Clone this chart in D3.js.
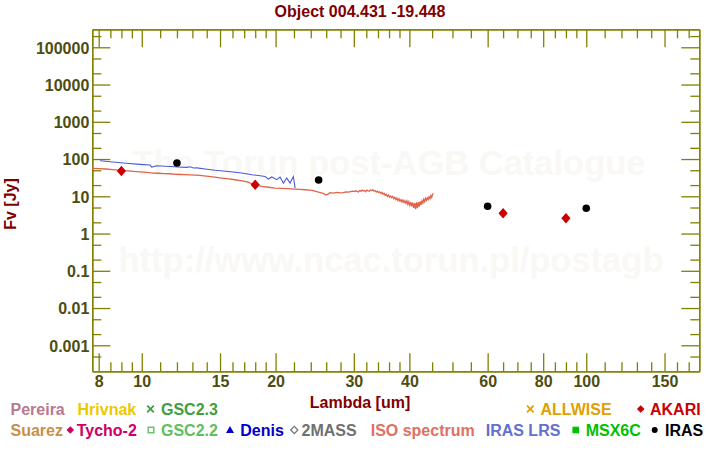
<!DOCTYPE html>
<html>
<head>
<meta charset="utf-8">
<script src="https://cdn.jsdelivr.net/npm/d3@7"></script>
<style>
  html, body { margin: 0; padding: 0; background: #ffffff; }
  svg { display: block; font-family: Arial, "Liberation Sans", sans-serif; }
</style>
</head>
<body>
<svg id="chart" width="720" height="450"></svg>
<script>
// ---------------- DATA ----------------
const chartTitle = "Object 004.431 -19.448";
const xAxisTitle = "Lambda [um]";
const yAxisTitle = "Fv [Jy]";

const xTickValues = [8, 10, 15, 20, 30, 40, 60, 80, 100, 150];
const xMinorTicks = [8.5, 9, 9.5, 11, 12, 13, 14, 16, 17, 18, 19, 22, 24, 26, 28, 32, 34, 36, 38, 45, 50, 55, 65, 70, 75, 85, 90, 95, 110, 120, 130, 140, 160, 170];
const yTickValues = [0.001, 0.01, 0.1, 1, 10, 100, 1000, 10000, 100000];
const yTickLabels = ["0.001", "0.01", "0.1", "1", "10", "100", "1000", "10000", "100000"];
const yMinorTicks = [5e-4, 2e-3, 5e-3, 2e-2, 5e-2, 0.2, 0.5, 2, 5, 20, 50, 200, 500, 2000, 5000, 2e4, 5e4, 2e5];

// ISO spectrum
const isoLambda = [7.73, 8.0, 8.3, 8.6, 9.0, 9.3, 9.6, 9.9, 10.26, 10.6, 10.9, 11.2, 11.58, 11.9, 12.2, 12.5, 12.84, 13.2, 13.5, 14.12, 14.6, 15.13, 15.7, 16.21, 16.7, 17.08, 17.4, 17.68, 18.1, 18.62, 19.3, 19.95, 20.6, 21.37, 22.0,
  22.7, 23.3, 23.9, 24.3, 24.76, 25.2, 25.6, 25.98, 26.3, 26.5, 27.0, 27.5, 28.0, 28.4, 28.8, 29.2, 29.6,
  29.9, 30.1, 30.3, 30.5, 30.7, 30.9, 31.1, 31.3, 31.5, 31.7, 31.9, 32.1, 32.3, 32.5, 32.7, 32.9, 33.1, 33.3, 33.5, 33.7, 33.9,
  34.1, 34.3, 34.5, 34.7, 34.9, 35.1, 35.3, 35.5, 35.7, 35.9, 36.1, 36.3, 36.5, 36.7, 36.9, 37.1, 37.3, 37.5, 37.7, 37.9,
  38.1, 38.3, 38.5, 38.7, 38.9, 39.1, 39.3, 39.5, 39.7, 39.9, 40.1, 40.3, 40.5, 40.7, 40.9, 41.1, 41.3, 41.5, 41.7, 41.9,
  42.1, 42.3, 42.5, 42.7, 42.9, 43.1, 43.3, 43.5, 43.7, 43.9, 44.1, 44.3, 44.5, 44.7, 44.9, 45.1, 45.3];
const isoFlux = [56, 55.5, 54, 52, 49.5, 48, 46.5, 45.5, 43.7, 42, 41.5, 40.5, 40.3, 39, 38.5, 38, 37.5, 37, 36.3, 34.2, 32.5, 30.9, 29.3, 27.8, 26.3, 25, 23.5, 21.7, 20, 18.4, 17.5, 16.6, 16.3, 16.0, 15.6,
  15.3, 15.0, 14.7, 14.2, 13.3, 12.6, 12.0, 10.8, 11.6, 12.5, 12.2, 12.7, 12.3, 12.6, 13.2, 13.0, 13.6,
  13.8, 13.4, 14.0, 13.5, 13.1, 14.2, 13.7, 14.6, 13.9, 14.3, 13.3, 14.7, 14.0, 13.6, 14.9, 14.1, 15.1, 13.7, 14.3, 13.0, 13.8,
  12.6, 13.2, 11.9, 12.8, 11.4, 12.0, 10.6, 11.3, 9.9, 10.8, 9.5, 10.2, 9.2, 9.9, 8.6, 9.4, 8.1, 8.9, 7.7, 8.6,
  7.3, 8.1, 7.0, 7.9, 6.8, 7.6, 6.5, 7.5, 6.1, 7.2, 5.7, 7.0, 5.4, 6.8, 4.9, 6.6, 4.5, 6.9, 4.8, 7.0,
  5.3, 7.3, 5.9, 7.6, 6.6, 8.3, 7.2, 8.8, 7.8, 9.1, 8.2, 9.6, 8.7, 10.4, 9.3, 11.2, 12.0];

// IRAS LRS spectrum
const lrsLambda = [8.06, 8.49, 9.09, 9.91, 10.44, 10.53, 10.81, 11.58, 12.07, 12.62, 12.84, 13.07, 13.3, 13.88, 14.62, 15.66, 16.79, 17.68, 18.30, 18.94, 19.27, 19.61, 20.12, 20.47, 20.83, 21.19, 21.56, 21.93, 22.13];
const lrsFlux = [90, 84.7, 78, 71.7, 69, 61, 66, 63, 61, 59.6, 62, 57.3, 58, 54, 50, 46.5, 42, 38, 36, 34, 29, 33, 28, 33, 22.6, 31, 22.6, 34, 16.6];

// IRAS photometry
const irasLambda = [12, 25, 60, 100];
const irasFlux = [78, 27.3, 5.4, 4.77];

// AKARI photometry
const akariLambda = [9, 18, 65, 90];
const akariFlux = [47.7, 20.4, 3.5, 2.57];

// Legend
const legendRow1 = ["Pereira", "Hrivnak", "GSC2.3", "ALLWISE", "AKARI"];
const legendRow1Colors = ["#b87890", "#ecc800", "#40a040", "#e0a000", "#cc0000"];
const legendRow1Symbols = [null, null, "cross", "cross", "diamond"];
const legendRow2 = ["Suarez", "Tycho-2", "GSC2.2", "Denis", "2MASS", "ISO spectrum", "IRAS LRS", "MSX6C", "IRAS"];
const legendRow2Colors = ["#c89048", "#cc0066", "#60c060", "#0000cc", "#707070", "#e07060", "#6070d0", "#00c000", "#000000"];
const legendRow2Symbols = [null, "diamond", "squareOpen", "triangle", "diamondOpen", null, null, "square", "circle"];

const watermark1 = "The Torun post-AGB Catalogue";
const watermark2 = "http://www.ncac.torun.pl/postagb";

// ---------------- LAYOUT ----------------
const plot = { left: 92.3, right: 699.3, top: 29.3, bottom: 371.3 };
const axisColor = "#808000";
const tickLabelColor = "#4d4d12";
const titleColor = "#800000";

const svg = d3.select("#chart");

const x = d3.scaleLog().domain([7.74, 179.6]).range([plot.left, plot.right]);
const y = d3.scaleLog().domain([2.004e-4, 3.04e5]).range([plot.bottom, plot.top]);

// watermark
const wm = svg.append("g").attr("fill", "#f9f8f4").attr("font-weight", "bold").attr("font-size", 34.5).attr("text-anchor", "middle");
wm.append("text").attr("x", 389).attr("y", 175).text(watermark1);
wm.append("text").attr("x", 391).attr("y", 272).text(watermark2);

// title
svg.append("text").attr("x", 360).attr("y", 17).attr("text-anchor", "middle")
  .attr("font-weight", "bold").attr("font-size", 16).attr("fill", titleColor).text(chartTitle);

// axes helpers
function styleAxis(g) {
  g.selectAll("path.domain").attr("stroke", axisColor).attr("stroke-width", 1.3);
  g.selectAll(".tick line").attr("stroke", axisColor).attr("stroke-width", 1.3);
  g.selectAll(".tick text").attr("fill", tickLabelColor).attr("font-weight", "bold").attr("font-size", 16).attr("font-family", "Arial, 'Liberation Sans', sans-serif");
}

// bottom axis
const gb = svg.append("g").attr("transform", `translate(0,${plot.bottom})`)
  .call(d3.axisBottom(x).tickValues(xTickValues).tickFormat(d3.format("d")).tickSizeInner(-18).tickSizeOuter(0).tickPadding(4));
styleAxis(gb);
const gbm = svg.append("g").attr("transform", `translate(0,${plot.bottom})`)
  .call(d3.axisBottom(x).tickValues(xMinorTicks).tickFormat("").tickSizeInner(-9).tickSizeOuter(0));
styleAxis(gbm);
// top axis
const gt = svg.append("g").attr("transform", `translate(0,${plot.top})`)
  .call(d3.axisTop(x).tickValues(xTickValues).tickFormat("").tickSizeInner(-18).tickSizeOuter(0));
styleAxis(gt);
const gtm = svg.append("g").attr("transform", `translate(0,${plot.top})`)
  .call(d3.axisTop(x).tickValues(xMinorTicks).tickFormat("").tickSizeInner(-9).tickSizeOuter(0));
styleAxis(gtm);
// left axis
const gl = svg.append("g").attr("transform", `translate(${plot.left},0)`)
  .call(d3.axisLeft(y).tickValues(yTickValues).tickFormat((d, i) => yTickLabels[i]).tickSizeInner(-18).tickSizeOuter(0).tickPadding(3));
styleAxis(gl);
gl.selectAll(".tick text").attr("dy", "0.37em");
const glm = svg.append("g").attr("transform", `translate(${plot.left},0)`)
  .call(d3.axisLeft(y).tickValues(yMinorTicks).tickFormat("").tickSizeInner(-9).tickSizeOuter(0));
styleAxis(glm);
// right axis
const gr = svg.append("g").attr("transform", `translate(${plot.right},0)`)
  .call(d3.axisRight(y).tickValues(yTickValues).tickFormat("").tickSizeInner(-18).tickSizeOuter(0));
styleAxis(gr);
const grm = svg.append("g").attr("transform", `translate(${plot.right},0)`)
  .call(d3.axisRight(y).tickValues(yMinorTicks).tickFormat("").tickSizeInner(-9).tickSizeOuter(0));
styleAxis(grm);

// axis titles
svg.append("text").attr("x", 360).attr("y", 408).attr("text-anchor", "middle")
  .attr("font-weight", "bold").attr("font-size", 16).attr("fill", titleColor).text(xAxisTitle);
svg.append("text").attr("transform", "translate(16,204) rotate(-90)").attr("text-anchor", "middle")
  .attr("font-weight", "bold").attr("font-size", 16).attr("fill", titleColor).text(yAxisTitle);

// spectra
const line = d3.line().x(d => x(d[0])).y(d => y(d[1]));
svg.append("path").datum(lrsLambda.map((l, i) => [l, lrsFlux[i]]))
  .attr("d", line).attr("fill", "none").attr("stroke", "#4a5ad8").attr("stroke-width", 1.1);
svg.append("path").datum(isoLambda.map((l, i) => [l, isoFlux[i]]))
  .attr("d", line).attr("fill", "none").attr("stroke", "#e0644c").attr("stroke-width", 1.3);

// symbols
function diamondPath(cx, cy, w, h) {
  return `M${cx},${cy - h}L${cx + w},${cy}L${cx},${cy + h}L${cx - w},${cy}Z`;
}
svg.append("g").selectAll("path").data(akariLambda.map((l, i) => [l, akariFlux[i]])).join("path")
  .attr("d", d => diamondPath(x(d[0]), y(d[1]), 4.6, 5.2)).attr("fill", "#cc0000");
svg.append("g").selectAll("circle").data(irasLambda.map((l, i) => [l, irasFlux[i]])).join("circle")
  .attr("cx", d => x(d[0])).attr("cy", d => y(d[1])).attr("r", 3.8).attr("fill", "#000000");

// legend
function drawSymbol(g, type, cx, cy, color) {
  if (type === "cross") {
    g.append("path").attr("d", `M${cx - 3.3},${cy - 3.3}L${cx + 3.3},${cy + 3.3}M${cx + 3.3},${cy - 3.3}L${cx - 3.3},${cy + 3.3}`)
      .attr("stroke", color).attr("stroke-width", 1.8).attr("fill", "none");
  } else if (type === "diamond") {
    g.append("path").attr("d", diamondPath(cx, cy, 3.8, 3.8)).attr("fill", color);
  } else if (type === "diamondOpen") {
    g.append("path").attr("d", diamondPath(cx, cy, 3.6, 3.6)).attr("fill", "none").attr("stroke", color).attr("stroke-width", 1.2);
  } else if (type === "squareOpen") {
    g.append("rect").attr("x", cx - 2.8).attr("y", cy - 2.8).attr("width", 5.6).attr("height", 5.6).attr("fill", "none").attr("stroke", color).attr("stroke-width", 1.4);
  } else if (type === "square") {
    g.append("rect").attr("x", cx - 3.3).attr("y", cy - 3.3).attr("width", 6.6).attr("height", 6.6).attr("fill", color);
  } else if (type === "triangle") {
    g.append("path").attr("d", `M${cx},${cy - 4}L${cx + 4},${cy + 3}L${cx - 4},${cy + 3}Z`).attr("fill", color);
  } else if (type === "circle") {
    g.append("circle").attr("cx", cx).attr("cy", cy).attr("r", 3).attr("fill", color);
  }
}
const row1TextX = [10.5, 77.5, 161, 540.5, 650];
const row1SymX = [0, 0, 150.5, 530.3, 640.7];
const row2TextX = [10.5, 76.7, 161, 240.3, 301.5, 370.7, 485.7, 585.7, 665];
const row2SymX = [0, 70.3, 151, 230, 294.3, 0, 0, 575.7, 654.7];
const legend = svg.append("g").attr("font-weight", "bold").attr("font-size", 16);
const row1Y = 415, row2Y = 436;
legendRow1.forEach((t, i) => {
  legend.append("text").attr("x", row1TextX[i]).attr("y", row1Y).attr("fill", legendRow1Colors[i]).text(t);
  if (legendRow1Symbols[i]) drawSymbol(legend, legendRow1Symbols[i], row1SymX[i], row1Y - 6, legendRow1Colors[i]);
});
legendRow2.forEach((t, i) => {
  legend.append("text").attr("x", row2TextX[i]).attr("y", row2Y).attr("fill", legendRow2Colors[i]).text(t);
  if (legendRow2Symbols[i]) drawSymbol(legend, legendRow2Symbols[i], row2SymX[i], row2Y - 6, legendRow2Colors[i]);
});
</script>
</body>
</html>
